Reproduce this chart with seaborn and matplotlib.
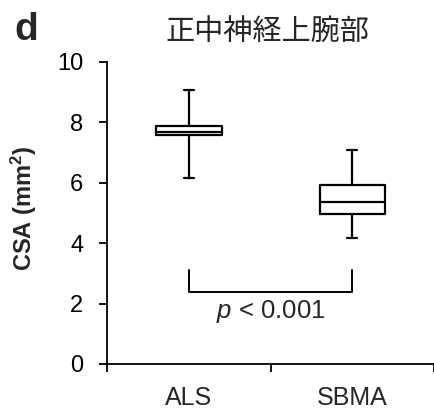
import pandas as pd
import numpy as np
import matplotlib.pyplot as plt
import seaborn as sns

# DATA (five-number summaries)
groups = ["ALS", "SBMA"]
als_vals = [6.17, 7.58, 7.69, 7.88, 9.07]
sbma_vals = [4.17, 4.97, 5.37, 5.93, 7.07]
y_ticks = [0, 2, 4, 6, 8, 10]
title = "正中神経上腕部"
p_text = "$\\it{p}$ < 0.001"
bracket_y = 2.39
bracket_top = 3.11

df = pd.DataFrame({
    "group": ["ALS"] * len(als_vals) + ["SBMA"] * len(sbma_vals),
    "CSA": als_vals + sbma_vals,
})

sns.set_style("ticks")
plt.rcParams['font.family'] = ['Liberation Sans', 'Noto Sans CJK JP', 'DejaVu Sans']
plt.rcParams['mathtext.fontset'] = 'custom'
plt.rcParams['mathtext.it'] = 'Liberation Sans:italic'
plt.rcParams['mathtext.rm'] = 'Liberation Sans'
plt.rcParams['mathtext.bf'] = 'Liberation Sans:bold'

fig = plt.figure(figsize=(4.35, 4.15), dpi=100)
ax = fig.add_axes([0.246, 0.123, 0.752, 0.728])

sns.boxplot(data=df, x="group", y="CSA", order=groups, whis=(0, 100),
            width=0.4, fill=False, color="black", linewidth=1.6,
            capwidths=0.06, ax=ax)

# significance bracket
ax.plot([0, 0, 1, 1], [bracket_top, bracket_y, bracket_y, bracket_top],
        color="black", lw=1.4)
ax.text(0.5, bracket_y - 0.2, p_text, ha="center", va="top", fontsize=18.5)

ax.set_xlim(-0.5, 1.5)
ax.set_ylim(0, 10)
ax.set_yticks(y_ticks)
ax.set_xticks([-0.5, 0.5, 1.5])
ax.set_xticklabels([])
ax.set_xticks([0, 1], minor=True)
ax.set_xticklabels(groups, minor=True)
ax.tick_params(axis="x", which="minor", length=0, labelsize=18, pad=16)
ax.tick_params(axis="both", which="major", length=6, width=1.3, labelsize=17,
               color="black", labelcolor="black")
ax.tick_params(axis="y", which="major", pad=11)
ax.set_xlabel("")
ax.set_ylabel("CSA (mm$\\mathbf{^2}$)", fontsize=17, fontweight="bold")
ax.yaxis.set_label_coords(-0.208, 0.515)
sns.despine(ax=ax)
for s in ["left", "bottom"]:
    ax.spines[s].set_linewidth(1.3)
    ax.spines[s].set_color("black")

fig.text(0.615, 0.923, title, ha="center", va="center", fontsize=21,
         family=['Noto Sans CJK JP', 'DejaVu Sans'])
fig.text(0.034, 0.928, "d", ha="left", va="center", fontsize=28, fontweight="bold")

plt.savefig("out.png", dpi=100)
